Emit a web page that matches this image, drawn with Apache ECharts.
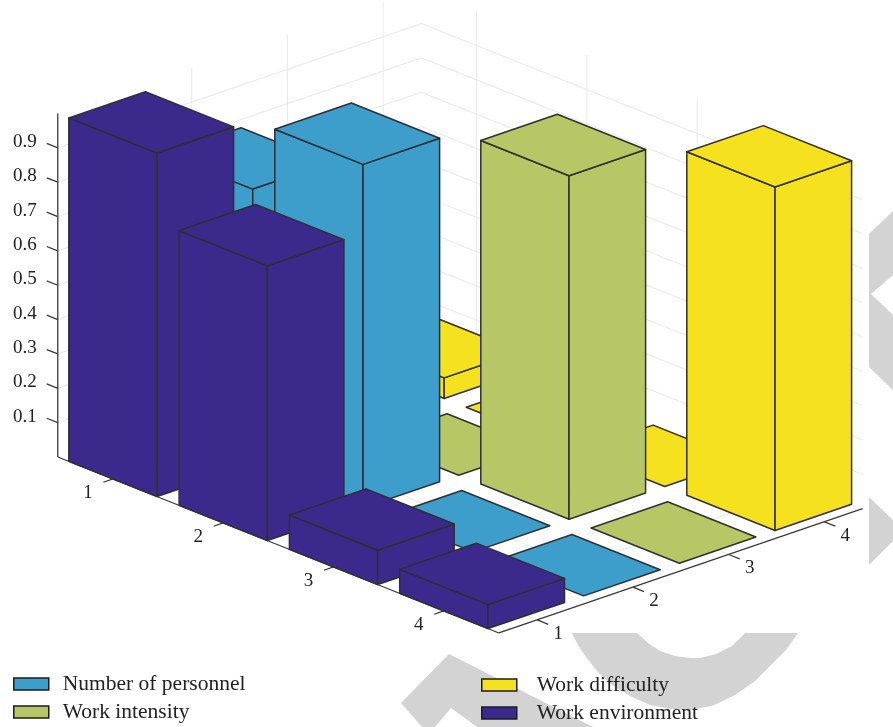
<!DOCTYPE html>
<html>
<head>
<meta charset="utf-8">
<title>Workload factors by group</title>
<style>
  html, body { margin: 0; padding: 0; background: #fff; }
  #chart { width: 893px; height: 727px; }
</style>
<script src="https://cdn.jsdelivr.net/npm/echarts@6/dist/echarts.min.js"></script>
</head>
<body>
<div id="chart"></div>
<script>
// Bar heights, one value per row (1..4), one list per factor.
const rowLabels = ['1', '2', '3', '4'];
const colLabels = ['1', '2', '3', '4'];
const heightTicks = [0.1, 0.2, 0.3, 0.4, 0.5, 0.6, 0.7, 0.8, 0.9];
const workEnvironment = [1.0, 0.8, 0.1, 0.07];
const numberOfPersonnel = [0.8, 1.0, 0, 0];
const workIntensity = [0, 0, 1.0, 0];
const workDifficulty = [0.06, 0, 0, 1.0];

// Axonometric projection from (row, column, height) to the page plane.
const ORIGIN = [-54.8, 454.6];
const ROW_STEP = [110.3, 44];
const COL_STEP = [95.7, -32.7];
const UNIT_HEIGHT = 343.5;
const BAR_SIZE = 0.4;
const ROW_RANGE = [0.5, 4.5];
const COL_RANGE = [0.6, 4.4];
const FONT = '"Liberation Serif", serif';
const EDGE = '#2f2f33';
const WALL = '#e9e9e9';
const AXIS = '#3a3a3a';
const TEXT = '#222';

function project(r, c, z) {
  return [
    ORIGIN[0] + r * ROW_STEP[0] + c * COL_STEP[0],
    ORIGIN[1] + r * ROW_STEP[1] + c * COL_STEP[1] - z * UNIT_HEIGHT
  ];
}

// One column of bars; faces are stacked back to front through z2.
function barRenderer(col) {
  return function (params, api) {
    const r = api.value(0);
    const h = api.value(1);
    const at = (dr, dc, z) => api.coord(project(r + dr, col + dc, z));
    const s = BAR_SIZE;
    const z2 = 100 + (r - col) * 10;
    const style = { fill: api.visual('color'), stroke: EDGE, lineWidth: 1.5, lineJoin: 'round' };
    const face = (pts, order) => ({
      type: 'polygon', z2: z2 + order, shape: { points: pts }, style: style
    });
    const children = [];
    if (h > 0) {
      children.push(face([at(-s, -s, 0), at(s, -s, 0), at(s, -s, h), at(-s, -s, h)], 0));
      children.push(face([at(s, -s, 0), at(s, s, 0), at(s, s, h), at(s, -s, h)], 1));
    }
    children.push(face([at(-s, -s, h), at(s, -s, h), at(s, s, h), at(-s, s, h)], 2));
    return { type: 'group', children: children };
  };
}

function barSeries(name, col, values, color) {
  return {
    name: name,
    type: 'custom',
    coordinateSystem: 'cartesian2d',
    z: 3,
    silent: true,
    itemStyle: { color: color },
    data: values.map((v, i) => [i + 1, v]),
    renderItem: barRenderer(col)
  };
}

// Walls, floor grid, axis lines, tick marks and tick labels.
function frameRenderer(params, api) {
  const pt = (r, c, z) => api.coord(project(r, c, z));
  const seg = (a, b, color, width) => ({
    type: 'line',
    shape: { x1: a[0], y1: a[1], x2: b[0], y2: b[1] },
    style: { stroke: color, lineWidth: width }
  });
  const label = (text, p, dx, dy) => ({
    type: 'text',
    style: {
      text: text, x: p[0] + dx, y: p[1] + dy, fill: TEXT,
      font: '19px ' + FONT, align: 'center', verticalAlign: 'middle'
    }
  });
  const [r0, r1] = ROW_RANGE;
  const [c0, c1] = COL_RANGE;
  const out = [];

  heightTicks.forEach(z => {
    out.push(seg(pt(r0, c0, z), pt(r0, c1, z), WALL, 1));
    out.push(seg(pt(r0, c1, z), pt(r1, c1, z), WALL, 1));
  });
  rowLabels.forEach((t, i) => {
    const r = i + 1;
    out.push(seg(pt(r, c1, 0), pt(r, c1, 1), WALL, 1));
    out.push(seg(pt(r, c0, 0), pt(r, c1, 0), WALL, 1));
  });
  colLabels.forEach((t, i) => {
    const c = i + 1;
    out.push(seg(pt(r0, c, 0), pt(r0, c, 1), WALL, 1));
    out.push(seg(pt(r0, c, 0), pt(r1, c, 0), WALL, 1));
  });

  out.push(seg(pt(r0, c0, 0), pt(r0, c0, 1), AXIS, 1.3));
  out.push(seg(pt(r0, c0, 0), pt(r1, c0, 0), AXIS, 1.3));
  out.push(seg(pt(r1, c0, 0), pt(r1, c1, 0), AXIS, 1.3));

  heightTicks.forEach(z => {
    const p = pt(r0, c0, z);
    out.push(seg(p, pt(r0 - 0.1, c0, z), AXIS, 1.3));
    out.push(label(z.toFixed(1), p, -33, -6));
  });
  rowLabels.forEach((t, i) => {
    const p = pt(i + 1, c0, 0);
    out.push(seg(p, pt(i + 1, c0 - 0.1, 0), AXIS, 1.3));
    out.push(label(t, p, -25, 14));
  });
  colLabels.forEach((t, i) => {
    const p = pt(r1, i + 1, 0);
    out.push(seg(p, pt(r1 + 0.1, i + 1, 0), AXIS, 1.3));
    out.push(label(t, p, 21, 14));
  });
  return { type: 'group', children: out };
}

// Pale publisher mark behind the plot.
const MARK = '#d3d3d3';
const markShapes = [
  [[869,234],[893,211],[893,275],[871,294],[893,315],[893,390],[869,367]],
  [[869,497],[893,520],[893,541],[869,565]],
  [[449,654],[401,703],[422,727],[435,727],[451,708],[477,727],[593,727]],
  [[572,633],[578,645],[586,657],[597,671],[612,685],[630,696],[650,705],[670,709],[690,710],
   [712,706],[735,695],[755,681],[772,664],[786,650],[798,633],
   [745,633],[732,646],[716,654],[700,658],[690,658],[675,656],[660,651],[648,643],[637,633]]
];

function legendBlock(names, left, top, gap, textPadding) {
  return {
    data: names,
    orient: 'vertical',
    left: left,
    top: top,
    itemWidth: 35,
    itemHeight: 12,
    itemGap: gap,
    padding: 0,
    selectedMode: false,
    icon: 'rect',
    itemStyle: { borderColor: '#1d1d1d', borderWidth: 1.5 },
    textStyle: {
      fontFamily: FONT, fontSize: 21.5, color: TEXT,
      padding: textPadding
    }
  };
}

const chart = echarts.init(document.getElementById('chart'), null, { renderer: 'canvas' });
chart.setOption({
  animation: false,
  backgroundColor: '#fff',
  grid: { left: 0, right: 0, top: 0, bottom: 0 },
  xAxis: { type: 'value', min: 0, max: 893, show: false },
  yAxis: { type: 'value', min: 0, max: 727, inverse: true, show: false },
  graphic: markShapes.map(points => ({
    type: 'polygon', silent: true, z: 0,
    shape: { points: points }, style: { fill: MARK }
  })),
  legend: [
    legendBlock(['Number of personnel', 'Work intensity'], 13, 673, 6, [0, 0, 2, 9]),
    legendBlock(['Work difficulty', 'Work environment'], 481, 674, 6, [0, 0, 0, 15])
  ],
  series: [
    {
      name: 'frame', type: 'custom', coordinateSystem: 'cartesian2d', z: 2, silent: true,
      data: [[0, 0]], renderItem: frameRenderer
    },
    barSeries('Number of personnel', 2, numberOfPersonnel, '#3d9ecb'),
    barSeries('Work intensity', 3, workIntensity, '#b7c766'),
    barSeries('Work difficulty', 4, workDifficulty, '#f5e11d'),
    barSeries('Work environment', 1, workEnvironment, '#3b2a8c')
  ]
});
</script>
</body>
</html>
